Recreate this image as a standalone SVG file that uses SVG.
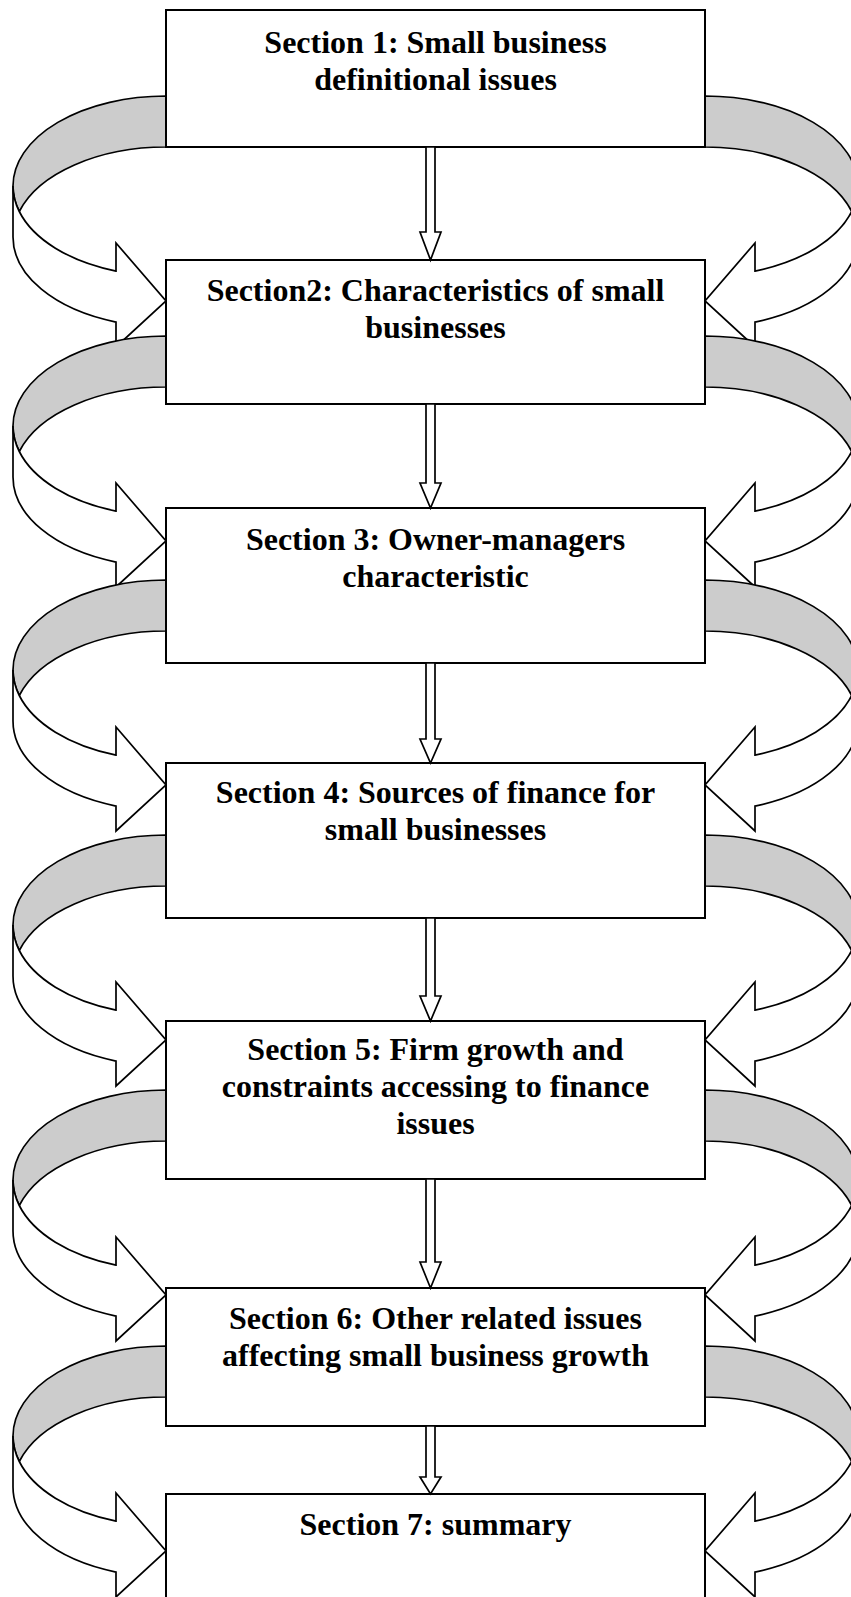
<svg xmlns="http://www.w3.org/2000/svg" xmlns:xlink="http://www.w3.org/1999/xlink" width="851" height="1597" viewBox="0 0 851 1597">
  <style>
    .box { fill: #ffffff; stroke: #000000; stroke-width: 2; }
    .label { font-family: "Liberation Serif", "Times New Roman", serif; font-weight: bold; font-size: 32px; fill: #000000; text-anchor: middle; }
    .band { fill: #cccccc; stroke: #000000; stroke-width: 1.7; stroke-linejoin: miter; }
    .shaft { fill: #ffffff; stroke: #000000; stroke-width: 1.7; stroke-linejoin: miter; }
    .down { fill: #ffffff; stroke: #000000; stroke-width: 1.7; }
  </style>
  <defs>
    <!-- Curved loop arrow, drawn on the left of a box edge at x=166, origin at top of the back band -->
    <g id="loop">
      <path class="band" d="M166,0 A153,90 0 0 0 13,90 A153,90 0 0 0 19.27,115.5 A153,90 0 0 1 166,51 Z"/>
      <path class="shaft" d="M13,90 L13,141 A153,90 0 0 0 116,226.06 L116,251 L166,205 L116,147 L116,175.06 A153,90 0 0 1 19.27,115.5 A153,90 0 0 1 13,90 Z"/>
    </g>
  </defs>

  <g id="connectors">
    <!-- looping arrows, left and mirrored right -->
    <use xlink:href="#loop" transform="translate(0,96)"/>
    <use xlink:href="#loop" transform="translate(871,96) scale(-1,1)"/>
    <use xlink:href="#loop" transform="translate(0,336)"/>
    <use xlink:href="#loop" transform="translate(871,336) scale(-1,1)"/>
    <use xlink:href="#loop" transform="translate(0,580)"/>
    <use xlink:href="#loop" transform="translate(871,580) scale(-1,1)"/>
    <use xlink:href="#loop" transform="translate(0,835)"/>
    <use xlink:href="#loop" transform="translate(871,835) scale(-1,1)"/>
    <use xlink:href="#loop" transform="translate(0,1090)"/>
    <use xlink:href="#loop" transform="translate(871,1090) scale(-1,1)"/>
    <use xlink:href="#loop" transform="translate(0,1346)"/>
    <use xlink:href="#loop" transform="translate(871,1346) scale(-1,1)"/>
  </g>

  <g id="section1">
    <rect class="box" x="166" y="10" width="539" height="137"/>
    <text class="label" x="435.5" y="53">Section 1: Small business</text>
    <text class="label" x="435.5" y="90">definitional issues</text>
  </g>
  <g id="section2">
    <rect class="box" x="166" y="260" width="539" height="144"/>
    <text class="label" x="435.5" y="301">Section2: Characteristics of small</text>
    <text class="label" x="435.5" y="338">businesses</text>
  </g>
  <g id="section3">
    <rect class="box" x="166" y="508" width="539" height="155"/>
    <text class="label" x="435.5" y="550">Section 3: Owner-managers</text>
    <text class="label" x="435.5" y="587">characteristic</text>
  </g>
  <g id="section4">
    <rect class="box" x="166" y="763" width="539" height="155"/>
    <text class="label" x="435.5" y="803">Section 4: Sources of finance for</text>
    <text class="label" x="435.5" y="840">small businesses</text>
  </g>
  <g id="section5">
    <rect class="box" x="166" y="1021" width="539" height="158"/>
    <text class="label" x="435.5" y="1060">Section 5: Firm growth and</text>
    <text class="label" x="435.5" y="1097">constraints accessing to finance</text>
    <text class="label" x="435.5" y="1134">issues</text>
  </g>
  <g id="section6">
    <rect class="box" x="166" y="1288" width="539" height="138"/>
    <text class="label" x="435.5" y="1329">Section 6: Other related issues</text>
    <text class="label" x="435.5" y="1366">affecting small business growth</text>
  </g>
  <g id="section7">
    <rect class="box" x="166" y="1494" width="539" height="130"/>
    <text class="label" x="435.5" y="1535">Section 7: summary</text>
  </g>

  <g id="flow-arrows">
    <path class="down" d="M426,147 L426,232 L420,232 L430.5,260 L441,232 L435,232 L435,147 Z"/>
    <path class="down" d="M426,404 L426,483 L420,483 L430.5,508 L441,483 L435,483 L435,404 Z"/>
    <path class="down" d="M426,663 L426,739 L420,739 L430.5,763 L441,739 L435,739 L435,663 Z"/>
    <path class="down" d="M426,918 L426,996 L420,996 L430.5,1021 L441,996 L435,996 L435,918 Z"/>
    <path class="down" d="M426,1179 L426,1262 L420,1262 L430.5,1288 L441,1262 L435,1262 L435,1179 Z"/>
    <path class="down" d="M426,1426 L426,1477 L420,1477 L430.5,1494 L441,1477 L435,1477 L435,1426 Z"/>
  </g>
</svg>
